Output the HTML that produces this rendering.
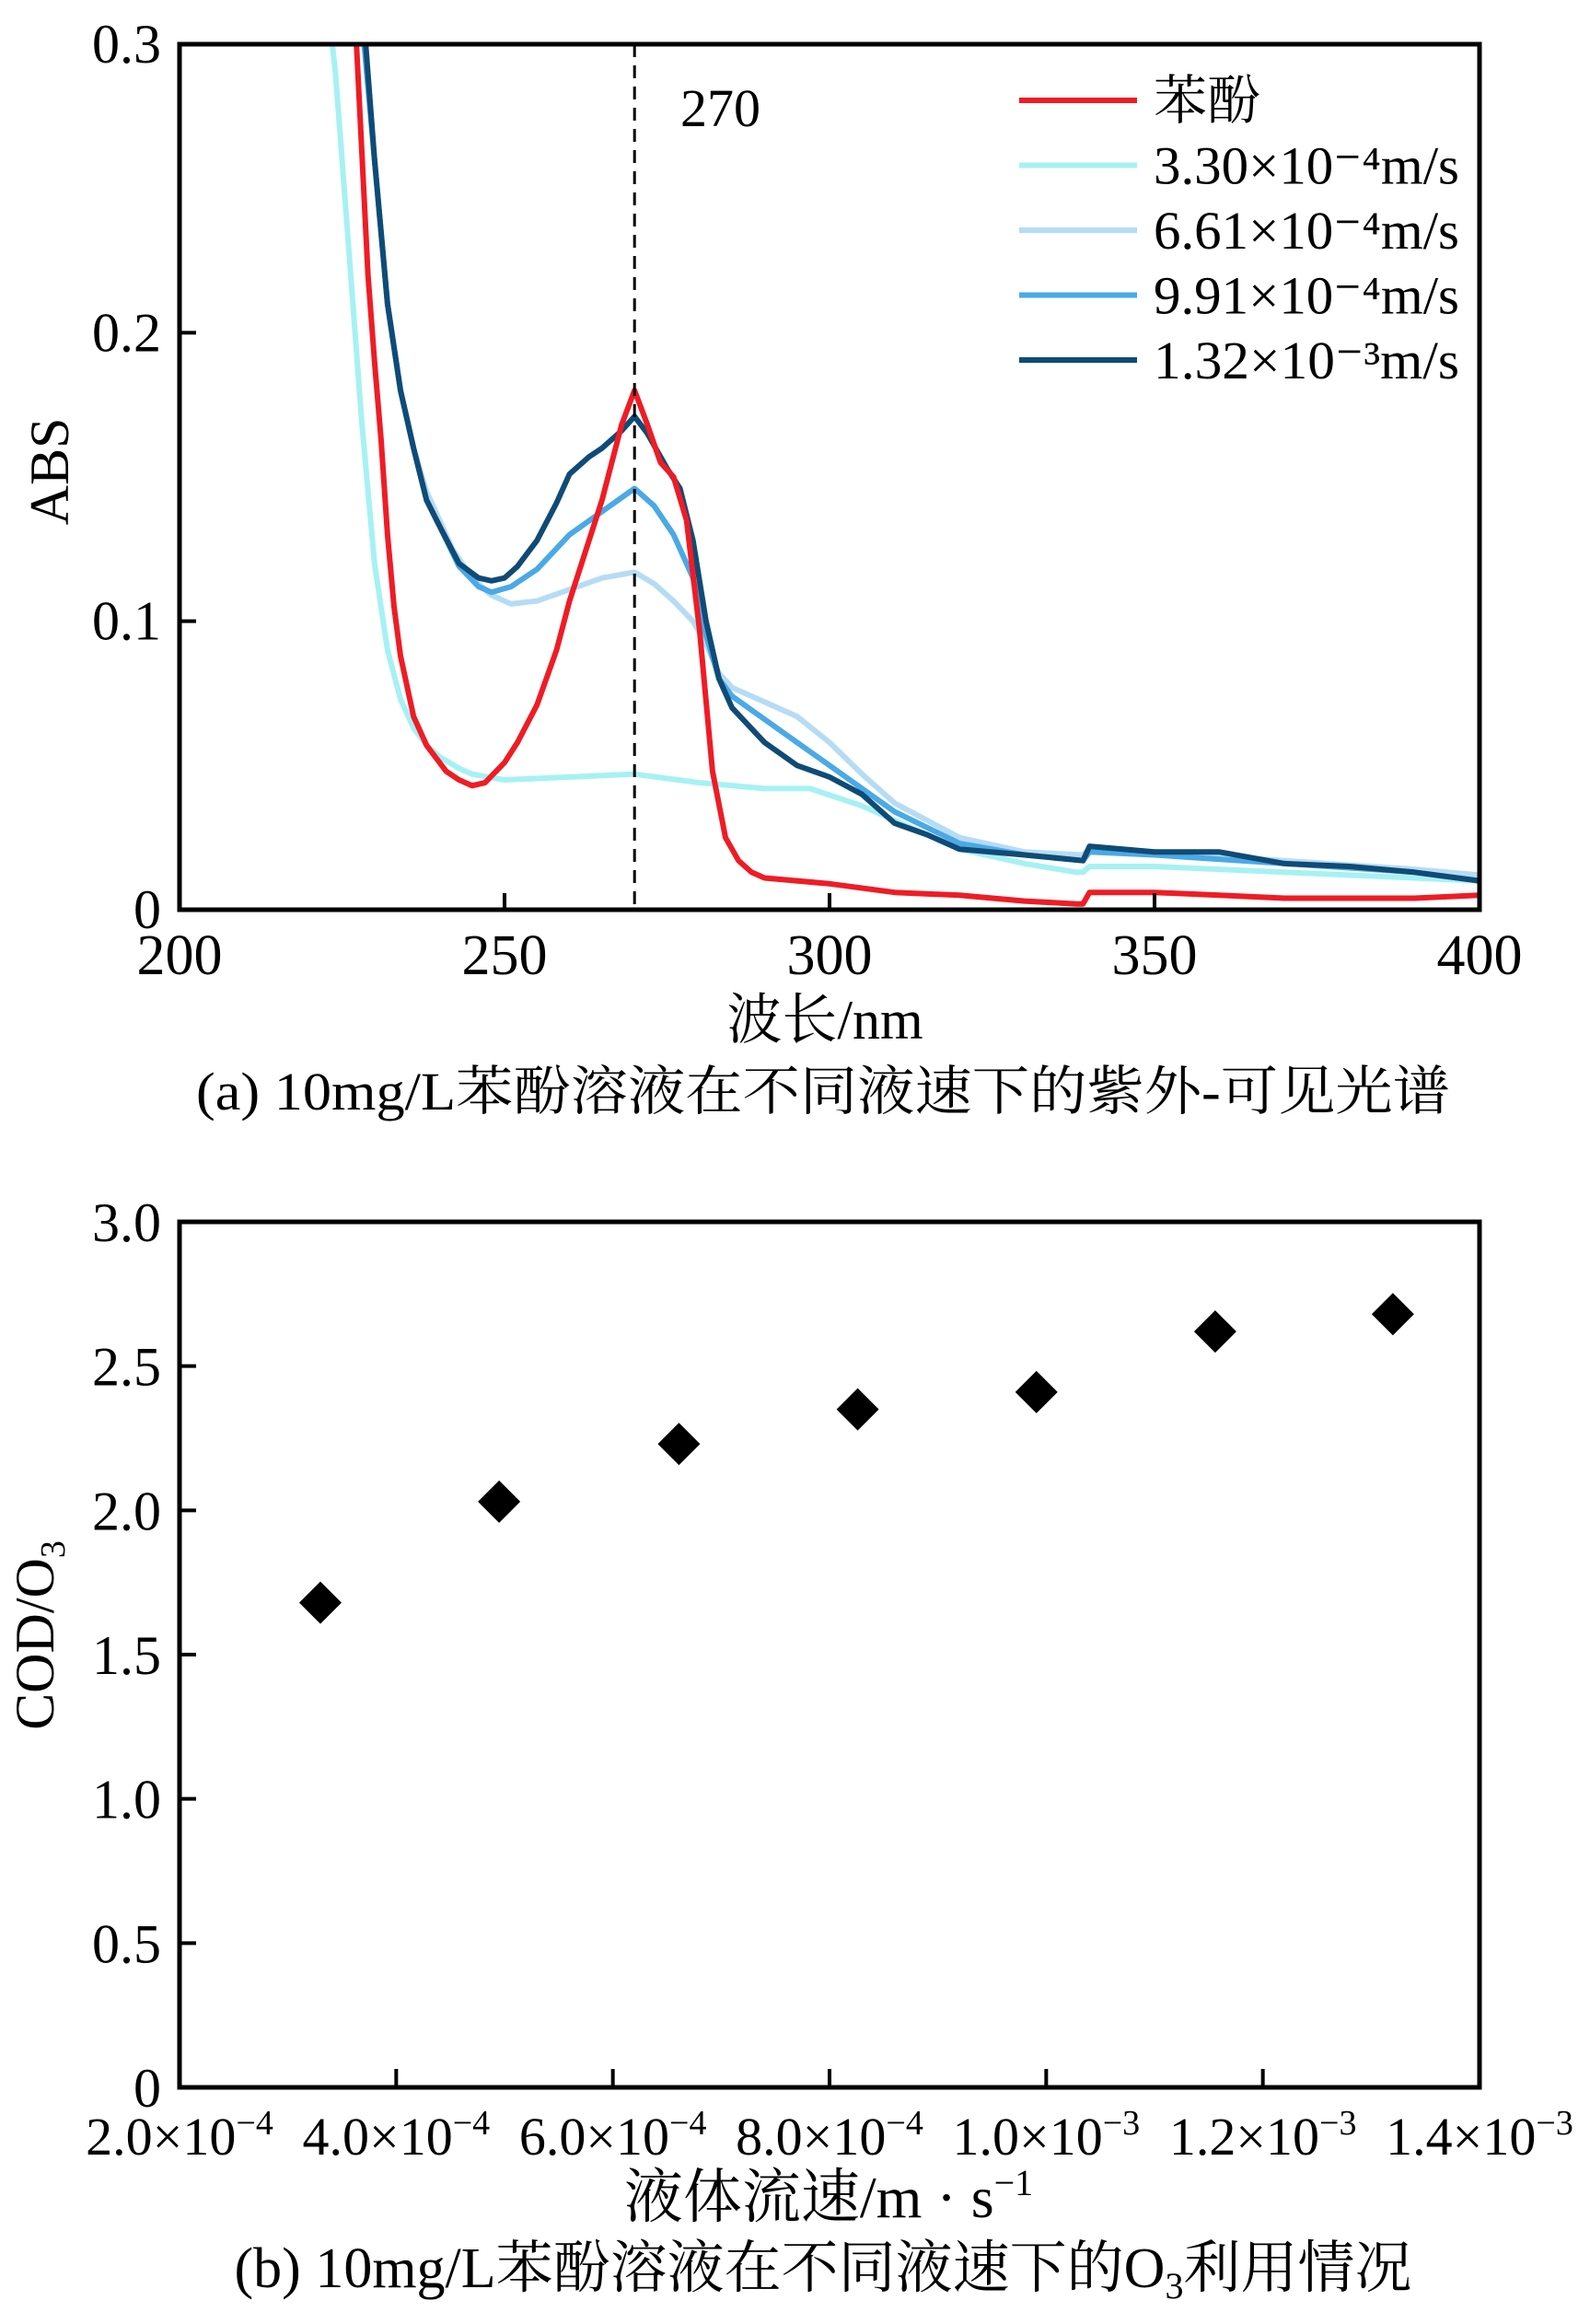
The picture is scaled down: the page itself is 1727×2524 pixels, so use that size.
<!DOCTYPE html>
<html><head><meta charset="utf-8"><style>
html,body{margin:0;padding:0;background:#fff;}
svg{display:block;font-family:"Liberation Serif","Noto Serif CJK SC",serif;}
</style></head><body>
<svg id="chart" width="1727" height="2524" viewBox="0 0 1727 2524" xmlns="http://www.w3.org/2000/svg">
<g id="pa"></g>
<g id="pb"></g>
</svg>
<script>
// ---- Chart (a) data ----
const redWl   = [227,229,230,231,232,233,234,236,238,241,243,245,247,250,252,255,258,260,263,265,268,270,272,274,276,278,280,282,284,286,288,290,300,310,320,330,338,339,340,350,360,370,380,390,400];
const redAbs  = [0.31,0.22,0.19,0.163,0.13,0.105,0.088,0.067,0.057,0.048,0.045,0.043,0.044,0.051,0.058,0.071,0.090,0.107,0.128,0.142,0.168,0.180,0.168,0.155,0.150,0.135,0.097,0.048,0.025,0.017,0.013,0.011,0.009,0.006,0.005,0.003,0.002,0.002,0.006,0.006,0.005,0.004,0.004,0.004,0.005];
const cyanWl  = [223,224,226,228,230,232,234,236,238,240,243,245,250,260,270,280,290,297,305,320,330,338,339,340,350,370,390,400];
const cyanAbs = [0.31,0.29,0.23,0.17,0.12,0.09,0.073,0.063,0.057,0.053,0.049,0.047,0.045,0.046,0.047,0.044,0.042,0.042,0.036,0.021,0.016,0.013,0.013,0.015,0.015,0.013,0.011,0.010];
const lbWl    = [228,230,232,234,236,238,240,242,245,248,251,255,260,265,270,273,276,279,281,283,285,290,295,300,305,310,320,330,339,340,350,370,390,400];
const lbAbs   = [0.31,0.26,0.21,0.18,0.16,0.145,0.135,0.125,0.115,0.109,0.106,0.107,0.111,0.115,0.117,0.113,0.107,0.100,0.092,0.082,0.077,0.072,0.067,0.058,0.047,0.037,0.025,0.020,0.019,0.021,0.020,0.017,0.014,0.012];
const blWl    = [228,230,232,234,236,238,240,243,246,248,251,255,260,265,270,273,276,279,281,283,285,290,295,300,305,310,320,330,339,340,350,370,390,400];
const blAbs   = [0.31,0.26,0.21,0.18,0.16,0.142,0.133,0.119,0.112,0.110,0.112,0.118,0.130,0.138,0.146,0.140,0.130,0.115,0.095,0.080,0.074,0.066,0.058,0.050,0.042,0.034,0.023,0.019,0.017,0.020,0.019,0.016,0.013,0.010];
const nvWl    = [228.3,230,232,234,236,238,240,243,246,248,250,252,255,258,260,263,265,268,270,272,275,277,279,281,283,285,290,295,300,305,310,315,320,330,339,340,350,360,370,380,390,400];
const nvAbs   = [0.31,0.26,0.21,0.18,0.16,0.142,0.133,0.120,0.115,0.114,0.115,0.119,0.128,0.141,0.151,0.157,0.160,0.166,0.171,0.165,0.153,0.146,0.128,0.100,0.080,0.070,0.058,0.050,0.046,0.040,0.030,0.026,0.021,0.019,0.017,0.022,0.020,0.020,0.016,0.015,0.013,0.010];
const aSeriesNames = ["苯酚","3.30×10⁻⁴m/s","6.61×10⁻⁴m/s","9.91×10⁻⁴m/s","1.32×10⁻³m/s"];
const aXTicks = [200,250,300,350,400];
const aYTicks = [0,0.1,0.2,0.3];
const aYTickLabels = ["0","0.1","0.2","0.3"];
const peakWl = 270;
// ---- Chart (b) data ----
const flowRates = [3.30e-4,4.95e-4,6.61e-4,8.26e-4,9.91e-4,1.156e-3,1.32e-3];
const codO3 = [1.68,2.03,2.23,2.35,2.41,2.62,2.68];
const bXTicks = [2e-4,4e-4,6e-4,8e-4,1e-3,1.2e-3,1.4e-3];
const bXMant = ["2.0","4.0","6.0","8.0","1.0","1.2","1.4"];
const bXExp = ["−4","−4","−4","−4","−3","−3","−3"];
const bYTicks = [0,0.5,1,1.5,2,2.5,3];
const bYTickLabels = ["0","0.5","1.0","1.5","2.0","2.5","3.0"];

const NS="http://www.w3.org/2000/svg";
function mk(parent,tag,attrs,text){const e=document.createElementNS(NS,tag);for(const k in attrs)e.setAttribute(k,attrs[k]);if(text!==undefined)e.textContent=text;parent.appendChild(e);return e;}

// ---------- chart a ----------
const A={l:195,r:1607,t:48,b:988};
const ax=v=>A.l+(v-200)/200*(A.r-A.l);
const ay=v=>A.b-v/0.3*(A.b-A.t);
const pa=document.getElementById('pa');
const clip=mk(pa,'clipPath',{id:'clipA'});mk(clip,'rect',{x:A.l,y:A.t,width:A.r-A.l,height:A.b-A.t});
const colors=["#ee1c25","#a6f1f4","#b5dcf5","#4aa9e6","#0f4b76"];
const series=[[redWl,redAbs],[cyanWl,cyanAbs],[lbWl,lbAbs],[blWl,blAbs],[nvWl,nvAbs]];
const names=["series-phenol","series-3-30e-4","series-6-61e-4","series-9-91e-4","series-1-32e-3"];
const order=[1,2,3,4,0];
order.forEach(i=>{
  const [w,v]=series[i];
  const d=w.map((x,j)=>(j?'L':'M')+ax(x).toFixed(1)+','+ay(v[j]).toFixed(1)).join('');
  const p=mk(pa,'path',{d:d,fill:'none',stroke:colors[i],'stroke-width':6,'stroke-linejoin':'round','clip-path':'url(#clipA)'});
  
  
});
const dl=mk(pa,'line',{x1:ax(peakWl),x2:ax(peakWl),y1:A.t,y2:A.b,stroke:'#000','stroke-width':3,'stroke-dasharray':'14,9'});


const pl=mk(pa,'text',{x:739,y:137,'font-size':58},"270");


const fa=mk(pa,'rect',{x:A.l,y:A.t,width:A.r-A.l,height:A.b-A.t,fill:'none',stroke:'#000','stroke-width':5});


aXTicks.forEach(t=>{
  const x=ax(t);
  if(t>200&&t<400){const tk=mk(pa,'line',{x1:x,x2:x,y1:A.b,y2:A.b-18,stroke:'#000','stroke-width':4});}
  const lb=mk(pa,'text',{x:x,y:1058,'font-size':62,'text-anchor':'middle'},String(t));
  
  
});
aYTicks.forEach((t,i)=>{
  const y=ay(t);
  if(t>0&&t<0.3){const tk=mk(pa,'line',{x1:A.l,x2:A.l+18,y1:y,y2:y,stroke:'#000','stroke-width':4});}
  const lb=mk(pa,'text',{x:175,y:y+20,'font-size':60,'text-anchor':'end'},aYTickLabels[i]);
  
  
});
aSeriesNames.forEach((n,i)=>{
  const y=109+i*70.5;
  const g=mk(pa,'g',{});
  
  
  mk(g,'line',{x1:1107,x2:1235,y1:y,y2:y,stroke:colors[i],'stroke-width':6});
  if(i===0){mk(g,'text',{x:1253,y:y+20,'font-size':58},n);}
  else{mk(g,'text',{x:1253,y:y+20,'font-size':58,textLength:332,lengthAdjust:'spacingAndGlyphs'},n);}
});
const yt=mk(pa,'text',{x:0,y:0,'font-size':60,'text-anchor':'middle',transform:'translate(74,512) rotate(-90)'},"ABS");


const xt=mk(pa,'text',{x:896,y:1128,'font-size':60,'text-anchor':'middle'},"波长/nm");


const ca=mk(pa,'text',{x:894,y:1205,'font-size':58,'text-anchor':'middle',textLength:1362,lengthAdjust:'spacingAndGlyphs'},"(a) 10mg/L苯酚溶液在不同液速下的紫外-可见光谱");



// ---------- chart b ----------
const B={l:195,r:1607,t:1327,b:2267};
const bx=v=>B.l+(v-2e-4)/1.2e-3*(B.r-B.l);
const by=v=>B.b-v/3*(B.b-B.t);
const pb=document.getElementById('pb');
const fb=mk(pb,'rect',{x:B.l,y:B.t,width:B.r-B.l,height:B.b-B.t,fill:'none',stroke:'#000','stroke-width':5});


bXTicks.forEach((t,i)=>{
  const x=bx(t);
  if(i>0&&i<bXTicks.length-1){const tk=mk(pb,'line',{x1:x,x2:x,y1:B.b,y2:B.b-20,stroke:'#000','stroke-width':4});}
  const lb=mk(pb,'text',{x:x,y:2340,'font-size':58,'text-anchor':'middle'});
  
  
  const a=document.createElementNS(NS,'tspan');a.textContent=bXMant[i]+"×10";lb.appendChild(a);
  const s=document.createElementNS(NS,'tspan');s.setAttribute('dy','-22');s.setAttribute('font-size','38');s.textContent=bXExp[i];lb.appendChild(s);
});
bYTicks.forEach((t,i)=>{
  const y=by(t);
  if(t>0&&t<3){const tk=mk(pb,'line',{x1:B.l,x2:B.l+18,y1:y,y2:y,stroke:'#000','stroke-width':4});}
  const lb=mk(pb,'text',{x:175,y:y+21,'font-size':60,'text-anchor':'end'},bYTickLabels[i]);
  
  
});
flowRates.forEach((f,i)=>{
  const x=bx(f),y=by(codO3[i]),h=23;
  const d=mk(pb,'path',{d:`M${x},${y-h}L${x+h},${y}L${x},${y+h}L${x-h},${y}Z`,fill:'#000'});
  
  
});
const byt=mk(pb,'text',{x:0,y:0,'font-size':60,'text-anchor':'middle',transform:'translate(58,1776) rotate(-90)'});


byt.innerHTML='COD/O<tspan font-size="38" dy="12">3</tspan>';
const bxt=mk(pb,'text',{x:900,y:2408,'font-size':64,'text-anchor':'middle'});


bxt.innerHTML='液体流速/m · s<tspan font-size="40" dy="-24">−1</tspan>';
const cb=mk(pb,'text',{x:894,y:2484,'font-size':62,'text-anchor':'middle'});


cb.innerHTML='(b) 10mg/L苯酚溶液在不同液速下的O<tspan font-size="40" dy="12">3</tspan><tspan dy="-12">利用情况</tspan>';
</script>
</body></html>
